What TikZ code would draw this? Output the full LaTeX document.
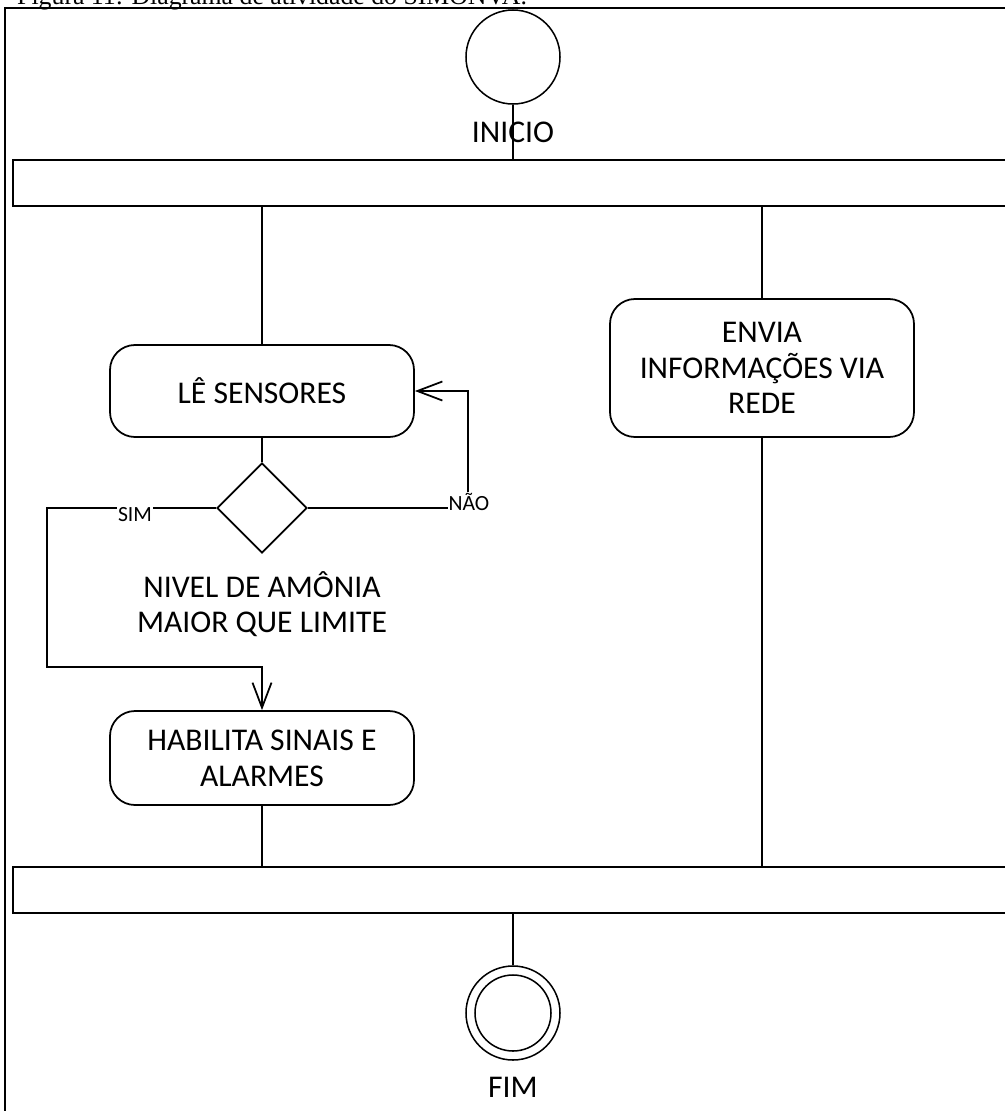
\documentclass[tikz,border=0pt]{standalone}
\usepackage{fontspec}
\setmainfont{Carlito}
\newfontfamily\captionfont{Liberation Serif}
\usetikzlibrary{arrows.meta,shapes.geometric}

\begin{document}
\begin{tikzpicture}[x=0.03cm,y=-0.03cm]
\tikzset{
  actbox/.style={rectangle,draw,rounded corners=0.75cm,line width=1.5pt,minimum width=9.12cm,align=center,font=\fontsize{27}{30.5}\selectfont},
  forkbar/.style={rectangle,draw,line width=1.5pt,minimum width=30.81cm,minimum height=1.38cm,inner sep=0pt},
  statenode/.style={circle,draw,line width=1.3pt,inner sep=0pt},
  decision/.style={diamond,draw,line width=1.5pt,shape aspect=1,minimum width=2.7cm,minimum height=2.7cm,inner sep=0pt},
  bigtext/.style={align=center,font=\fontsize{27}{30.5}\selectfont},
  guard/.style={fill=white,inner sep=1pt,font=\fontsize{18.5}{20}\selectfont},
  flow/.style={line width=1.5pt},
  arrowflow/.style={line width=1.5pt,-{Straight Barb[length=0.75cm,width=0.57cm]}}
}
\clip (0,0) rectangle (1005,1111);
% caption and frame
\node[anchor=base west,inner sep=0pt,font=\captionfont\fontsize{22}{26}\selectfont] (n_caption) at (17,4) {Figura 11: Diagrama de atividade do SIMONVA.};
\draw[line width=2pt] (5,1200) -- (5,8) -- (1100,8);
% nodes
\node[statenode,minimum size=2.82cm] (n_inicio) at (513,57) {};
\node[bigtext] (n_inicio_txt) at (513,132) {INICIO};
\node[forkbar] (n_fork) at (526.5,183) {};
\node[actbox,minimum height=2.76cm] (n_le) at (262,391) {LÊ SENSORES};
\node[actbox,minimum height=4.14cm] (n_envia) at (762,368) {ENVIA\\INFORMAÇÕES VIA\\REDE};
\node[decision] (n_dec) at (262,508) {};
\node[bigtext] (n_cond) at (262,604) {NIVEL DE AMÔNIA\\MAIOR QUE LIMITE};
\node[actbox,minimum height=2.82cm] (n_hab) at (262,758) {HABILITA SINAIS E\\ALARMES};
\node[forkbar] (n_join) at (526.5,890) {};
\node[statenode,minimum size=2.82cm] (n_fim) at (513,1013) {};
\node[statenode,minimum size=2.28cm] (n_fim_in) at (513,1013) {};
\node[bigtext] (n_fim_txt) at (513,1087) {FIM};
\coordinate (c_nao) at (468,508);
\coordinate (c_sim_a) at (47,508);
\coordinate (c_sim_b) at (47,667);
% connectors
\draw[flow] (n_inicio) -- (n_inicio |- n_fork.north);
\draw[flow] (n_le |- n_fork.south) -- (n_le);
\draw[flow] (n_envia |- n_fork.south) -- (n_envia);
\draw[flow] (n_le) -- (n_dec);
\draw[arrowflow] (n_dec.east) -- (c_nao) |- (n_le.east);
\draw[arrowflow] (n_dec.west) -- (c_sim_a) -- (c_sim_b) -| (n_hab.north);
\draw[flow] (n_hab) -- (n_hab |- n_join.north);
\draw[flow] (n_envia) -- (n_envia |- n_join.north);
\draw[flow] (n_fim |- n_join.south) -- (n_fim);
\node[guard] (n_nao) at (469,502) {NÃO};
\node[guard] (n_sim) at (135,515) {SIM};
\end{tikzpicture}
\end{document}
